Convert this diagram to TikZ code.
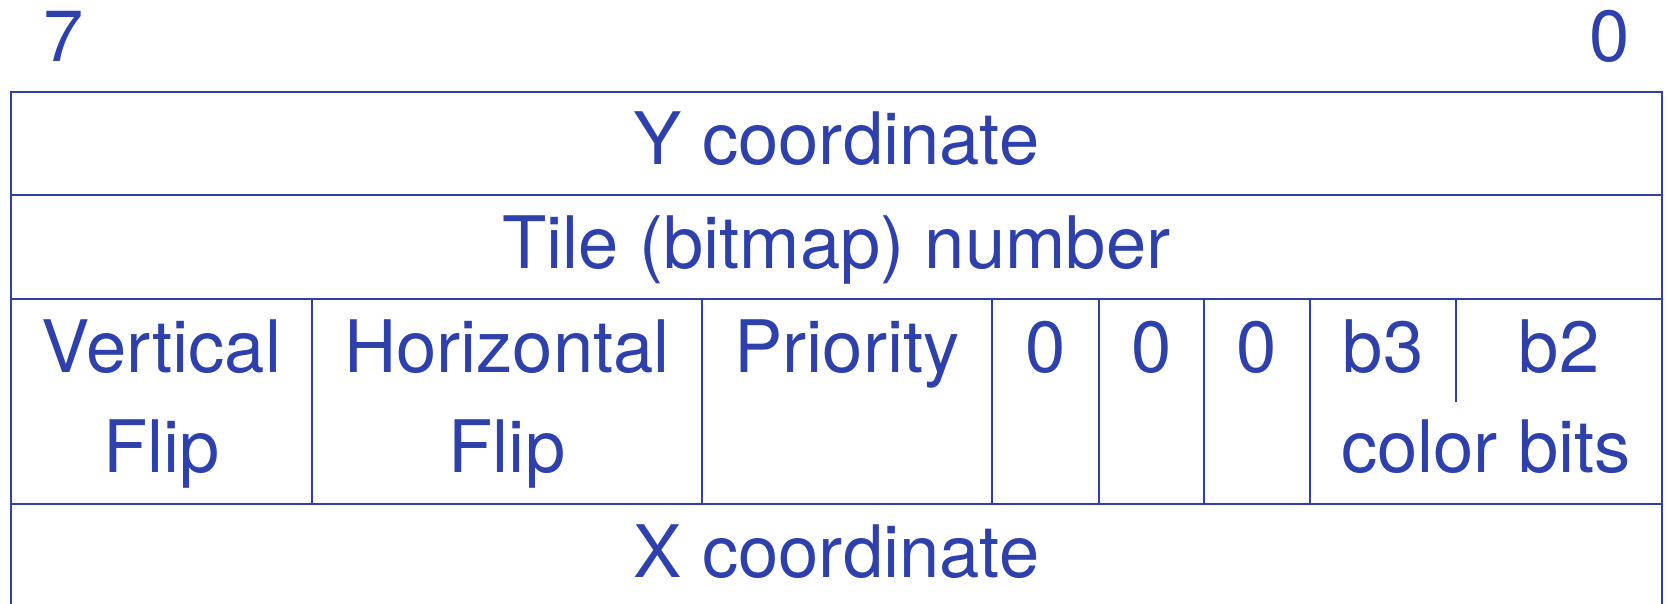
\documentclass[tikz,border=0pt]{standalone}
\usepackage{fontspec}
\setmainfont{TeX Gyre Heros}
\definecolor{regblue}{RGB}{45,64,172}
\begin{document}
\begin{tikzpicture}[x=0.5pt,y=-0.5pt,
  rule/.style={draw=regblue,line width=1.35pt,line join=miter},
  lbl/.style={anchor=base,inner sep=0pt,text=regblue,
              font=\fontsize{36.2}{50}\selectfont}]
\useasboundingbox (0,0) rectangle (1667,604);

% frame corners and row boundaries
\coordinate (tl) at (11,92);
\coordinate (tr) at (1662,92);
\coordinate (bl) at (11,604);
\coordinate (br) at (1662,604);

% outer frame (open at the bottom) and row separators
\draw[rule] (bl) -- (tl) -- (tr) -- (br);
\draw[rule] (11,195) -- (1662,195);
\draw[rule] (11,299) -- (1662,299);
\draw[rule] (11,504) -- (1662,504);

% field separators of the attribute byte
\foreach \x in {312,702,992,1099,1204,1310}
  \draw[rule] (\x,299) -- (\x,504);
\draw[rule] (1456,299) -- (1456,402);

% bit numbers
\node[lbl] (bit7) at (64,62) {7};
\node[lbl] (bit0) at (1610,62) {0};

% byte rows
\node[lbl] (ycoord) at (836.5,165) {Y coordinate};
\node[lbl] (tile)   at (836.5,269) {Tile (bitmap) number};
\node[lbl] (xcoord) at (836.5,577) {X coordinate};

% attribute byte fields
\node[lbl] (vflipa) at (161.5,372) {Vertical};
\node[lbl] (vflipb) at (161.5,473) {Flip};
\node[lbl] (hflipa) at (507,372) {Horizontal};
\node[lbl] (hflipb) at (507,473) {Flip};
\node[lbl] (prio)   at (847,372) {Priority};
\node[lbl] (zeroa)  at (1045.5,372) {0};
\node[lbl] (zerob)  at (1151.5,372) {0};
\node[lbl] (zeroc)  at (1257,372) {0};
\node[lbl] (bthree) at (1383,372) {b3};
\node[lbl] (btwo)   at (1559,372) {b2};
\node[lbl] (cbits)  at (1486,473) {color bits};
\end{tikzpicture}
\end{document}
